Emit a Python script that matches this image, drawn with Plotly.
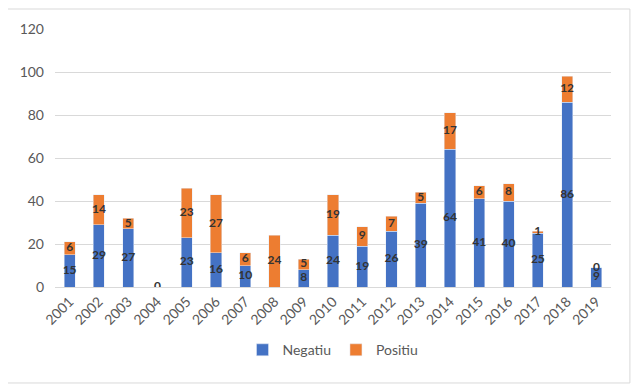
import plotly.graph_objects as go

years = [str(y) for y in range(2001, 2020)]
negatiu = [15, 29, 27, 0, 23, 16, 10, None, 8, 24, 19, 26, 39, 64, 41, 40, 25, 86, 9]
positiu = [6, 14, 5, None, 23, 27, 6, 24, 5, 19, 9, 7, 5, 17, 6, 8, 1, 12, 0]
y_ticks = [0, 20, 40, 60, 80, 100, 120]

BLUE = "#4472C4"
ORANGE = "#ED7D31"
GREY = "#595959"
FONT = "Lato, Open Sans, sans-serif"

fig = go.Figure()
fig.add_trace(go.Bar(name="Negatiu", x=years, y=negatiu, marker_color=BLUE,
                     hoverinfo="skip"))
fig.add_trace(go.Bar(name="Positiu", x=years, y=positiu, marker_color=ORANGE,
                     hoverinfo="skip"))

# data labels at segment centres
nx, ny, nt = [], [], []
px_, py_, pt = [], [], []
for yr, n, p in zip(years, negatiu, positiu):
    base = n if n is not None else 0
    if n is not None:
        nx.append(yr); ny.append(n / 2); nt.append(str(n))
    if p is not None:
        px_.append(yr); py_.append(base + p / 2); pt.append(str(p))

lbl_font = dict(family=FONT, size=12, color="#333333", weight="bold")
fig.add_trace(go.Scatter(x=nx, y=ny, text=nt, mode="text", textfont=lbl_font,
                         showlegend=False, hoverinfo="skip"))
fig.add_trace(go.Scatter(x=px_, y=py_, text=pt, mode="text", textfont=lbl_font,
                         showlegend=False, hoverinfo="skip"))

fig.update_layout(
    barmode="stack",
    bargap=0.62,
    width=632, height=381,
    margin=dict(l=47, r=29, t=21, b=102),
    paper_bgcolor="white", plot_bgcolor="white",
    font=dict(family=FONT, size=14, color=GREY),
    showlegend=True,
    legend=dict(orientation="h", x=0.5, xanchor="center", y=-0.245, yanchor="middle",
                font=dict(size=14, color=GREY), traceorder="normal",
                itemwidth=30),
    xaxis=dict(tickangle=-45, showgrid=False, showline=True, linecolor="#D9D9D9",
               tickfont=dict(size=14, color=GREY), ticks="", type="category",
               range=[-0.5, 18.5], autorange=False),
    yaxis=dict(range=[0, 120], tickvals=y_ticks, showgrid=True, gridcolor="#D9D9D9",
               zeroline=False, tickfont=dict(size=14, color=GREY),
               ticklabelstandoff=10, showline=False),
    shapes=[dict(type="rect", xref="paper", yref="paper",
                 x0=-0.088, x1=1.034, y0=-0.372, y1=1.0775,
                 line=dict(color="#D9D9D9", width=1), fillcolor="rgba(0,0,0,0)",
                 layer="above")],
)

fig.write_html("out.html")
